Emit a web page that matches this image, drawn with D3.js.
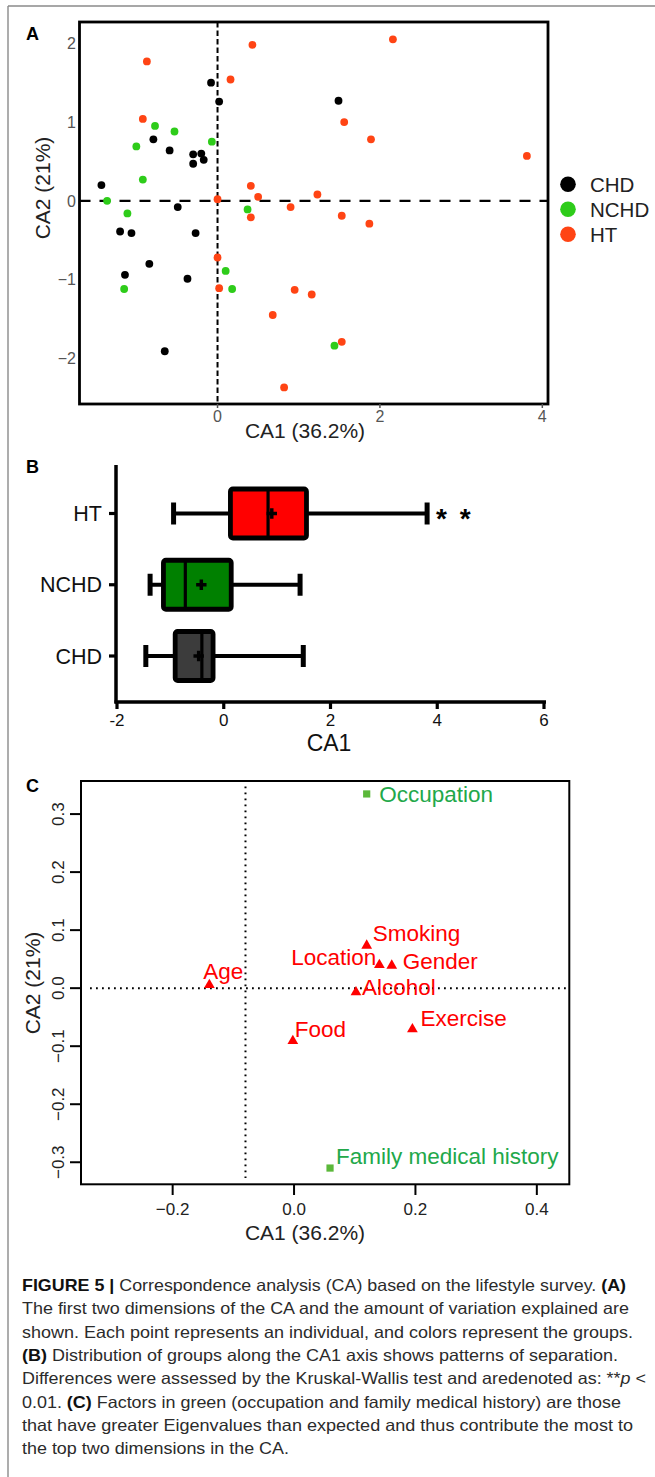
<!DOCTYPE html>
<html><head><meta charset="utf-8">
<script src="https://cdn.jsdelivr.net/npm/d3@7"></script>
<style>
body{margin:0;background:#fff}
text{font-family:"Liberation Sans",Arial,Helvetica,sans-serif}
</style>
</head><body>
<script>
// ---------------- DATA ----------------
// Panel A: individuals on CA1 / CA2
const groupNames = ["CHD", "NCHD", "HT"];
const chdX = [-0.08, 0.02, -0.79, -0.59, -0.30, -0.20, -0.17, -0.30, -1.43, -0.49, -1.20, -1.06, -0.27, -0.84, -1.14, -0.37, -0.65, 1.49];
const chdY = [1.50, 1.26, 0.78, 0.64, 0.59, 0.60, 0.52, 0.47, 0.20, -0.08, -0.39, -0.41, -0.41, -0.80, -0.94, -0.99, -1.91, 1.27];
const nchdX = [-0.77, -0.53, -1.00, -0.07, -0.92, -1.36, -1.11, 0.37, 0.10, -1.15, 0.18, 1.44];
const nchdY = [0.95, 0.88, 0.69, 0.75, 0.27, 0.00, -0.16, -0.11, -0.89, -1.12, -1.12, -1.84];
const htX = [-0.87, 0.43, 0.16, -0.92, 0.00, 0.41, 0.50, 1.23, 0.41, 0.90, 2.16, 1.56, 1.89, 3.81, 1.53, 1.87, 0.00, 0.02, 0.95, 1.16, 0.68, 0.82, 1.53];
const htY = [1.77, 1.98, 1.54, 1.04, 0.02, 0.19, 0.05, 0.08, -0.21, -0.08, 2.05, 1.00, 0.78, 0.57, -0.19, -0.29, -0.72, -1.11, -1.13, -1.19, -1.45, -2.37, -1.79];
const aXTicks = [0, 2, 4];
const aYTicks = [-2, -1, 0, 1, 2];
const aXTickLabels = ["0", "2", "4"];
const aYTickLabels = ["\u22122", "\u22121", "0", "1", "2"];

// Panel B: box plot of CA1 by group
const boxGroups = ["HT", "NCHD", "CHD"];
const boxMin = [-0.94, -1.38, -1.46];
const boxQ1 = [0.125, -1.13, -0.91];
const boxMedian = [0.83, -0.72, -0.41];
const boxMean = [0.90, -0.42, -0.47];
const boxQ3 = [1.55, 0.14, -0.20];
const boxMax = [3.81, 1.43, 1.49];
const boxSignif = ["* *", "", ""];
const bXTicks = [-2, 0, 2, 4, 6];
const bXTickLabels = ["-2", "0", "2", "4", "6"];

// Panel C: factors
const factorNames = ["Age", "Food", "Location", "Gender", "Smoking", "Alcohol", "Exercise", "Occupation", "Family medical history"];
const factorX = [-0.1395, -0.002, 0.1406, 0.161, 0.1197, 0.102, 0.195, 0.1197, 0.0593];
const factorY = [0.0057, -0.091, 0.040, 0.039, 0.0734, -0.007, -0.0707, 0.3347, -0.310];
const factorType = ["tri", "tri", "tri", "tri", "tri", "tri", "tri", "sq", "sq"];
const cXTicks = [-0.2, 0.0, 0.2, 0.4];
const cXTickLabels = ["\u22120.2", "0.0", "0.2", "0.4"];
const cYTicks = [-0.3, -0.2, -0.1, 0.0, 0.1, 0.2, 0.3];
const cYTickLabels = ["\u22120.3", "\u22120.2", "\u22120.1", "0.0", "0.1", "0.2", "0.3"];
const cRefX = -0.08;
const cRefY = 0.0;

// ---------------- STYLES ----------------
const groupColors = {CHD: "#000000", NCHD: "#2ecc1a", HT: "#ff4414"};
const boxFill = {HT: "#ff0000", NCHD: "#008000", CHD: "#3c3c3c"};
// label offsets (px) for panel C labels
const labelDx = [14, 2, -3, 11, 6, 6, 8, 12.5, 6];
const labelDy = [-14, -12.5, -8.5, -4.5, -13, -5.5, -11, 0.3, -12.5];
const labelAnchor = ["middle", "start", "end", "start", "start", "start", "start", "start", "start"];

const svg = d3.select("body").append("svg").attr("width", 655).attr("height", 1477);

// frame
svg.append("line").attr("x1", 8).attr("x2", 655).attr("y1", 6).attr("y2", 6).attr("stroke", "#8a8a8a").attr("stroke-width", 1.4);
svg.append("line").attr("x1", 8).attr("x2", 8).attr("y1", 6).attr("y2", 1477).attr("stroke", "#8a8a8a").attr("stroke-width", 1.4);

// ---------------- PANEL A ----------------
const xA = d3.scaleLinear().domain([-1.7, 4.07]).range([79.5, 548]);
const yA = d3.scaleLinear().domain([-2.58, 2.27]).range([404, 22]);
const gA = svg.append("g");
gA.append("text").text("A").attr("x", 26).attr("y", 40).attr("font-size", 18).attr("font-weight", "bold");

gA.append("line").attr("x1", xA.range()[0]).attr("x2", xA.range()[1]).attr("y1", yA(0)).attr("y2", yA(0))
  .attr("stroke", "#000").attr("stroke-width", 2.2).attr("stroke-dasharray", "11,9");
gA.append("line").attr("x1", xA(0)).attr("x2", xA(0)).attr("y1", yA.range()[1]).attr("y2", yA.range()[0])
  .attr("stroke", "#000").attr("stroke-width", 2).attr("stroke-dasharray", "5.5,3");

const ptsA = [
  {name: "CHD", xs: chdX, ys: chdY},
  {name: "NCHD", xs: nchdX, ys: nchdY},
  {name: "HT", xs: htX, ys: htY}
];
ptsA.forEach(g => {
  gA.append("g").selectAll("circle").data(g.xs.map((x, i) => [x, g.ys[i]])).join("circle")
    .attr("cx", d => xA(d[0])).attr("cy", d => yA(d[1])).attr("r", 3.9).attr("fill", groupColors[g.name]);
});

gA.append("rect").attr("x", xA.range()[0]).attr("y", yA.range()[1])
  .attr("width", xA.range()[1] - xA.range()[0]).attr("height", yA.range()[0] - yA.range()[1])
  .attr("fill", "none").attr("stroke", "#000").attr("stroke-width", 2.8);

// ticks
gA.selectAll(".xt").data(aXTicks).join("line").attr("x1", d => xA(d)).attr("x2", d => xA(d))
  .attr("y1", yA.range()[0]).attr("y2", yA.range()[0] + 4).attr("stroke", "#555").attr("stroke-width", 1.5);
gA.selectAll(".xl").data(aXTicks).join("text").attr("x", d => xA(d)).attr("y", yA.range()[0] + 18)
  .attr("text-anchor", "middle").attr("font-size", 16).attr("fill", "#555").text((d, i) => aXTickLabels[i]);
gA.selectAll(".yl").data(aYTicks).join("text").attr("x", 76).attr("y", d => yA(d)).attr("dy", "0.36em")
  .attr("text-anchor", "end").attr("font-size", 16).attr("fill", "#555").text((d, i) => aYTickLabels[i]);
gA.append("text").text("CA1 (36.2%)").attr("x", 305).attr("y", 437.5).attr("text-anchor", "middle").attr("font-size", 21).attr("fill", "#222");
gA.append("text").text("CA2 (21%)").attr("transform", "translate(50,188) rotate(-90)").attr("text-anchor", "middle").attr("font-size", 21).attr("fill", "#222");

// legend
const legY = d3.scalePoint().domain(groupNames).range([184.3, 234.3]);
groupNames.forEach(n => {
  gA.append("circle").attr("cx", 568).attr("cy", legY(n)).attr("r", 7.8).attr("fill", groupColors[n]);
  gA.append("text").text(n).attr("x", 590).attr("y", legY(n)).attr("dy", "0.36em").attr("font-size", 20.5).attr("fill", "#222");
});

// ---------------- PANEL B ----------------
const xB = d3.scaleLinear().domain([-2, 6]).range([117, 544]);
const yB = d3.scalePoint().domain(boxGroups).range([513.5, 656]);
const gB = svg.append("g");
gB.append("text").text("B").attr("x", 26).attr("y", 473).attr("font-size", 18).attr("font-weight", "bold");

const boxH = 49, capH = 22;
boxGroups.forEach((g, i) => {
  const cy = yB(g);
  gB.append("line").attr("x1", xB(boxMin[i])).attr("x2", xB(boxMax[i])).attr("y1", cy).attr("y2", cy)
    .attr("stroke", "#000").attr("stroke-width", 4.2);
  [boxMin[i], boxMax[i]].forEach(v => {
    gB.append("line").attr("x1", xB(v)).attr("x2", xB(v)).attr("y1", cy - capH / 2).attr("y2", cy + capH / 2)
      .attr("stroke", "#000").attr("stroke-width", 5);
  });
  gB.append("rect").attr("x", xB(boxQ1[i])).attr("y", cy - boxH / 2).attr("width", xB(boxQ3[i]) - xB(boxQ1[i])).attr("height", boxH)
    .attr("fill", boxFill[g]).attr("stroke", "#000").attr("stroke-width", 4.8).attr("stroke-linejoin", "round").attr("rx", 2.5);
  gB.append("line").attr("x1", xB(boxMedian[i])).attr("x2", xB(boxMedian[i])).attr("y1", cy - boxH / 2).attr("y2", cy + boxH / 2)
    .attr("stroke", "#000").attr("stroke-width", 3.2);
  gB.append("path").attr("d", d3.symbol(d3.symbolCross, 60)()).attr("transform", `translate(${xB(boxMean[i])},${cy})`).attr("fill", "#000");
  if (boxSignif[i]) {
    gB.append("text").text(boxSignif[i]).attr("x", xB(boxMax[i]) + 9).attr("y", cy + 14)
      .attr("font-size", 28).attr("font-weight", "bold").attr("word-spacing", 5).attr("fill", "#000");
  }
});

// axes
const axisY0 = 702;
gB.append("line").attr("x1", 116).attr("x2", 116).attr("y1", 465).attr("y2", axisY0 + 1.5).attr("stroke", "#000").attr("stroke-width", 3.5);
gB.append("line").attr("x1", 114.5).attr("x2", 546).attr("y1", axisY0).attr("y2", axisY0).attr("stroke", "#000").attr("stroke-width", 3.5);
gB.selectAll(".bxt").data(bXTicks).join("line").attr("x1", d => xB(d)).attr("x2", d => xB(d))
  .attr("y1", axisY0).attr("y2", axisY0 + 7).attr("stroke", "#000").attr("stroke-width", 3.2);
gB.selectAll(".bxl").data(bXTicks).join("text").attr("x", d => xB(d)).attr("y", axisY0 + 24)
  .attr("text-anchor", "middle").attr("font-size", 17).attr("fill", "#111").text((d, i) => bXTickLabels[i]);
gB.selectAll(".byt").data(boxGroups).join("line").attr("x1", 109).attr("x2", 116).attr("y1", d => yB(d)).attr("y2", d => yB(d))
  .attr("stroke", "#000").attr("stroke-width", 3.2);
gB.selectAll(".byl").data(boxGroups).join("text").attr("x", 102).attr("y", d => yB(d)).attr("dy", "0.36em")
  .attr("text-anchor", "end").attr("font-size", 21.5).attr("fill", "#111").text(d => d);
gB.append("text").text("CA1").attr("x", 329).attr("y", 751).attr("text-anchor", "middle").attr("font-size", 23).attr("fill", "#111");

// ---------------- PANEL C ----------------
const xC = d3.scaleLinear().domain([-0.351, 0.4535]).range([81, 569.3]);
const yC = d3.scaleLinear().domain([-0.338, 0.357]).range([1184.3, 781]);
const gC = svg.append("g");
gC.append("text").text("C").attr("x", 26).attr("y", 791.5).attr("font-size", 18).attr("font-weight", "bold");

gC.append("line").attr("x1", xC(cRefX)).attr("x2", xC(cRefX)).attr("y1", 786.5).attr("y2", 1178)
  .attr("stroke", "#000").attr("stroke-width", 2).attr("stroke-dasharray", "1.8,4.2");
gC.append("line").attr("x1", 90).attr("x2", 568).attr("y1", yC(cRefY)).attr("y2", yC(cRefY))
  .attr("stroke", "#000").attr("stroke-width", 2).attr("stroke-dasharray", "1.8,4.2");

factorNames.forEach((n, i) => {
  const px = xC(factorX[i]), py = yC(factorY[i]);
  const isSq = factorType[i] === "sq";
  const col = isSq ? "#22a84a" : "#ff0000";
  if (isSq) {
    gC.append("rect").attr("x", px - 3.6).attr("y", py - 3.6).attr("width", 7.2).attr("height", 7.2).attr("fill", "#5bb83a");
  } else {
    gC.append("path").attr("d", d3.symbol(d3.symbolTriangle, 50)()).attr("transform", `translate(${px},${py})`).attr("fill", "#ff0000");
  }
  gC.append("text").text(n).attr("x", px + labelDx[i]).attr("y", py + labelDy[i]).attr("dy", "0.36em")
    .attr("text-anchor", labelAnchor[i]).attr("font-size", 22.5).attr("fill", col);
});

gC.append("rect").attr("x", 81).attr("y", 781).attr("width", 569.3 - 81).attr("height", 1184.3 - 781)
  .attr("fill", "none").attr("stroke", "#000").attr("stroke-width", 2);
gC.selectAll(".cxt").data(cXTicks).join("line").attr("x1", d => xC(d)).attr("x2", d => xC(d))
  .attr("y1", 1184.3).attr("y2", 1195).attr("stroke", "#000").attr("stroke-width", 2);
gC.selectAll(".cxl").data(cXTicks).join("text").attr("x", d => xC(d)).attr("y", 1214.5)
  .attr("text-anchor", "middle").attr("font-size", 17).attr("fill", "#222").text((d, i) => cXTickLabels[i]);
gC.selectAll(".cyt").data(cYTicks).join("line").attr("x1", 70).attr("x2", 81).attr("y1", d => yC(d)).attr("y2", d => yC(d))
  .attr("stroke", "#000").attr("stroke-width", 2);
gC.selectAll(".cyl").data(cYTicks).join("text").attr("transform", d => `translate(64,${yC(d)}) rotate(-90)`)
  .attr("text-anchor", "middle").attr("font-size", 17).attr("fill", "#222").text((d, i) => cYTickLabels[i]);
gC.append("text").text("CA1 (36.2%)").attr("x", 305).attr("y", 1240).attr("text-anchor", "middle").attr("font-size", 21).attr("fill", "#222");
gC.append("text").text("CA2 (21%)").attr("transform", "translate(40,983) rotate(-90)").attr("text-anchor", "middle").attr("font-size", 21).attr("fill", "#222");

// ---------------- CAPTION ----------------
const captionLines = [
  [["FIGURE 5 | ", "b"], ["Correspondence analysis (CA) based on the lifestyle survey. ", ""], ["(A)", "b"]],
  [["The first two dimensions of the CA and the amount of variation explained are", ""]],
  [["shown. Each point represents an individual, and colors represent the groups.", ""]],
  [["(B)", "b"], [" Distribution of groups along the CA1 axis shows patterns of separation.", ""]],
  [["Differences were assessed by the Kruskal-Wallis test and aredenoted as: **", ""], ["p", "i"], [" <", ""]],
  [["0.01. ", ""], ["(C)", "b"], [" Factors in green (occupation and family medical history) are those", ""]],
  [["that have greater Eigenvalues than expected and thus contribute the most to", ""]],
  [["the top two dimensions in the CA.", ""]]
];
const captionWidths = [604, 607, 611, 596, 624, 599, 611, 267];
const capG = svg.append("g");
captionLines.forEach((parts, i) => {
  const t = capG.append("text").attr("x", 22).attr("y", 1291 + i * 23.3).attr("font-size", 16.5).attr("fill", "#2b2b2b")
    .attr("textLength", captionWidths[i]).attr("lengthAdjust", "spacingAndGlyphs").attr("xml:space", "preserve");
  parts.forEach(p => {
    const s = t.append("tspan").text(p[0]);
    if (p[1] === "b") s.attr("font-weight", "bold").attr("fill", "#111");
    if (p[1] === "i") s.attr("font-style", "italic");
  });
});
</script>
</body></html>
